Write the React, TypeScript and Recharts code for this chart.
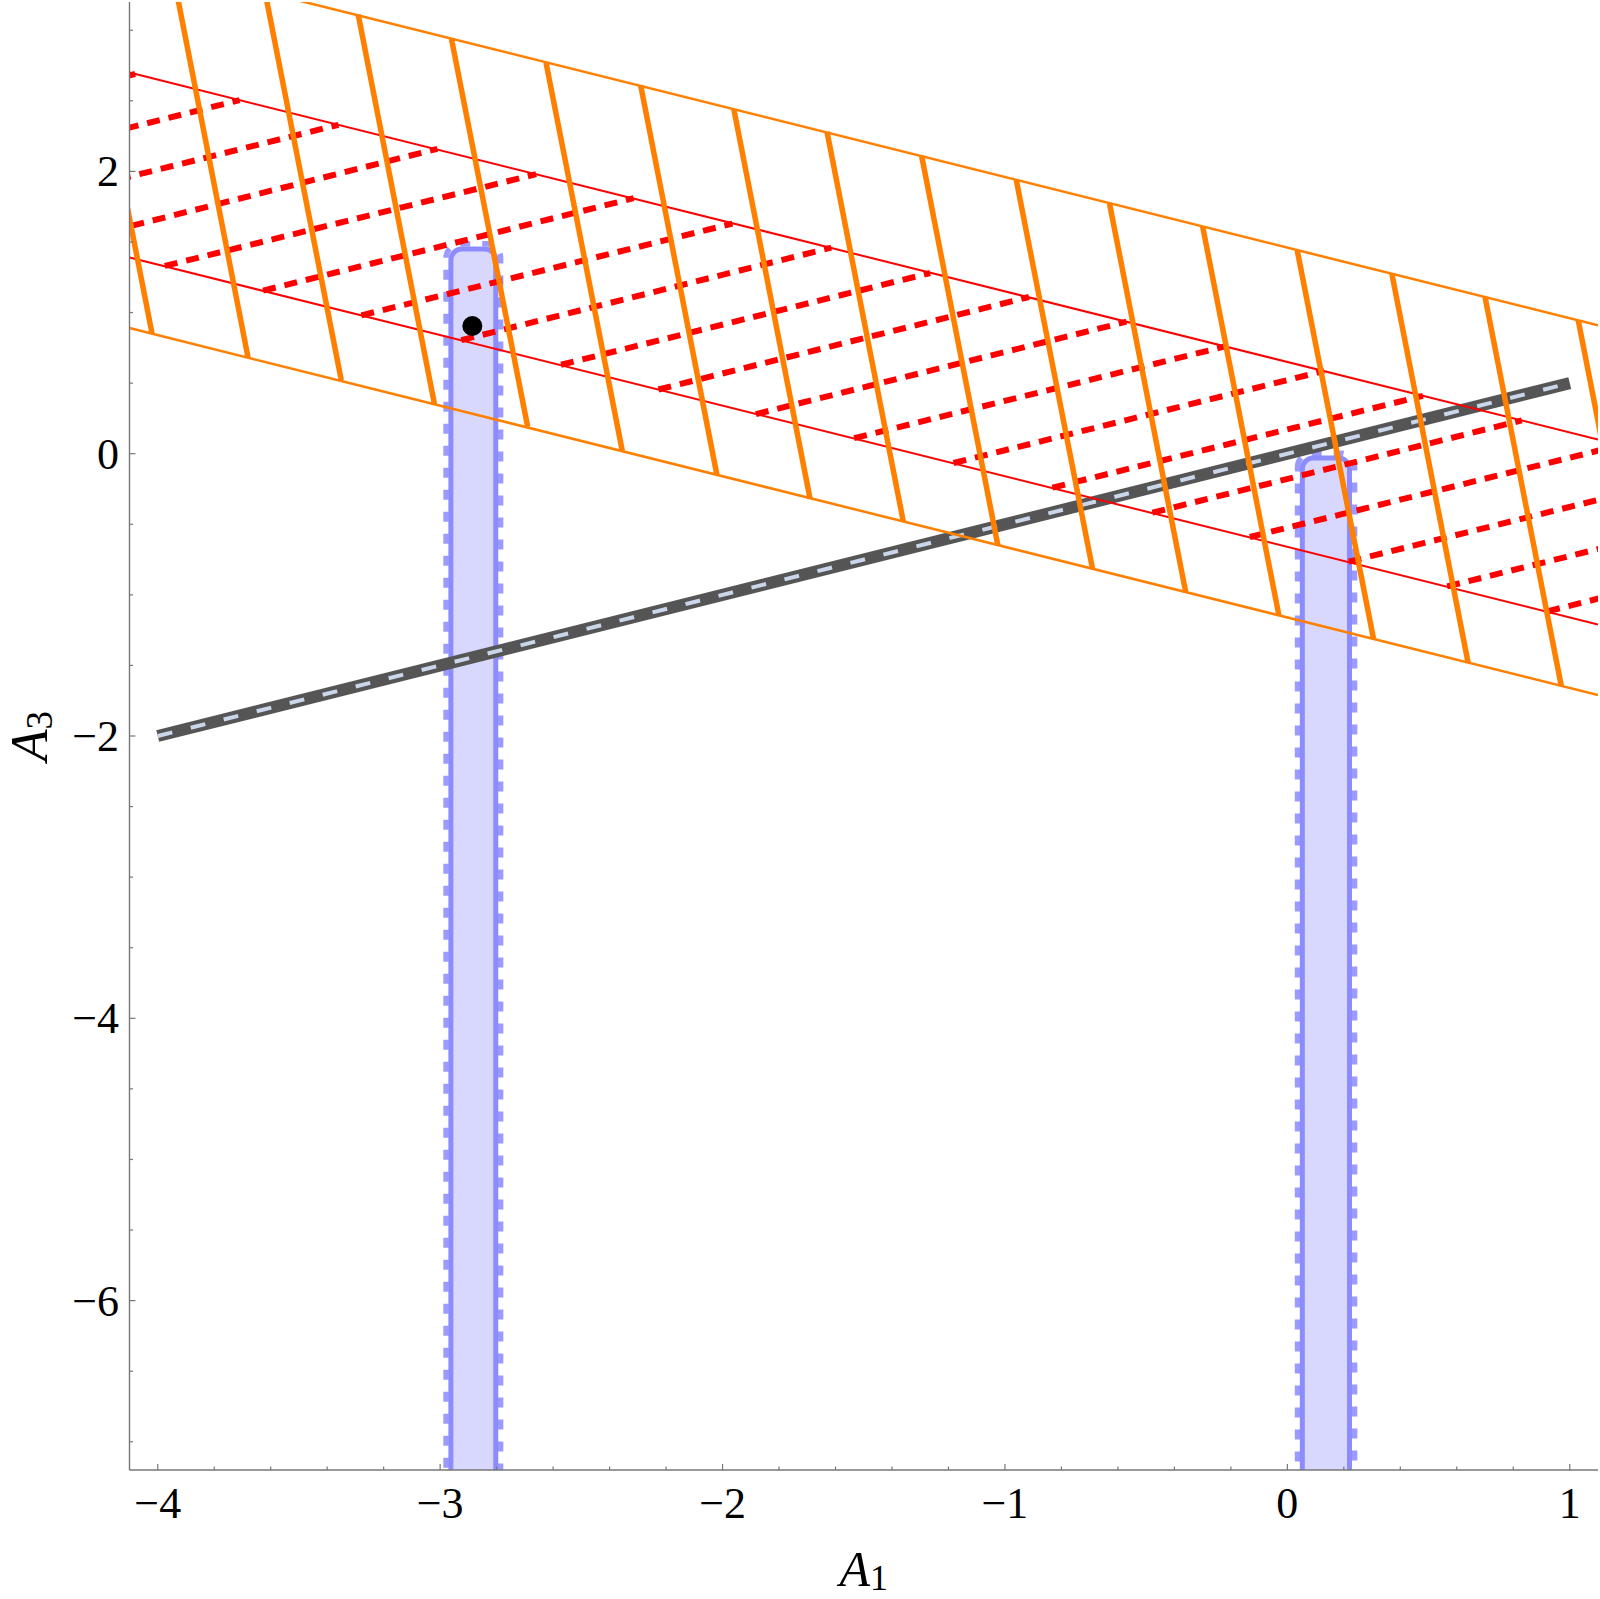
import React from 'react';
import { ComposedChart, Line, Scatter, XAxis, YAxis, ReferenceArea, Rectangle } from 'recharts';

const serif = '"Liberation Serif", "Times New Roman", serif';
const frame = '#777777';

const xDomain = [-4.1, 1.1];
const yDomain = [-7.2, 3.2];
const xTicks = [
  -4, -3.8, -3.6, -3.4, -3.2, -3, -2.8, -2.6, -2.4, -2.2, -2, -1.8, -1.6, -1.4, -1.2,
  -1, -0.8, -0.6, -0.4, -0.2, 0, 0.2, 0.4, 0.6, 0.8, 1,
];
const yTicks = [
  -7, -6.5, -6, -5.5, -5, -4.5, -4, -3.5, -3, -2.5, -2, -1.5, -1, -0.5, 0, 0.5, 1, 1.5, 2, 2.5, 3,
];

// orange band: edges and hatching [x low, y low, x high, y high]
const orangeTop = [{ x: -4.1, y: 3.51 }, { x: 1.1, y: 0.91 }];
const orangeBottom = [{ x: -4.1, y: 0.89 }, { x: 1.1, y: -1.71 }];
const orangeHatch = [
  [-4.02, 0.85, -4.29, 3.61],
  [-3.68, 0.68, -3.95, 3.44],
  [-3.35, 0.52, -3.62, 3.27],
  [-3.02, 0.35, -3.29, 3.11],
  [-2.69, 0.19, -2.96, 2.94],
  [-2.355, 0.02, -2.625, 2.77],
  [-2.02, -0.15, -2.29, 2.61],
  [-1.69, -0.32, -1.96, 2.44],
  [-1.36, -0.48, -1.63, 2.28],
  [-1.025, -0.65, -1.295, 2.11],
  [-0.69, -0.815, -0.96, 1.94],
  [-0.36, -0.98, -0.63, 1.775],
  [-0.03, -1.145, -0.3, 1.61],
  [0.305, -1.31, 0.035, 1.44],
  [0.64, -1.48, 0.37, 1.275],
  [0.97, -1.645, 0.7, 1.11],
  [1.3, -1.81, 1.03, 0.945],
];

// red band: edges and dashed hatching
const redTop = [{ x: -4.1, y: 2.7 }, { x: 1.1, y: 0.1 }];
const redBottom = [{ x: -4.1, y: 1.39 }, { x: 1.1, y: -1.21 }];
const redHatch = [
  [-5.39, 2.04, -4.08, 2.69],
  [-5.02, 1.85, -3.71, 2.505],
  [-4.67, 1.68, -3.36, 2.33],
  [-4.32, 1.5, -3.01, 2.16],
  [-3.975, 1.33, -2.66, 1.98],
  [-3.627, 1.155, -2.315, 1.81],
  [-3.279, 0.98, -1.965, 1.63],
  [-2.925, 0.805, -1.615, 1.46],
  [-2.572, 0.63, -1.265, 1.28],
  [-2.227, 0.455, -0.915, 1.11],
  [-1.882, 0.28, -0.57, 0.935],
  [-1.534, 0.11, -0.22, 0.76],
  [-1.182, -0.066, 0.13, 0.586],
  [-0.832, -0.241, 0.48, 0.41],
  [-0.478, -0.418, 0.83, 0.236],
  [-0.133, -0.59, 1.18, 0.061],
  [0.217, -0.765, 1.53, -0.114],
  [0.566, -0.94, 1.88, -0.289],
  [0.92, -1.117, 2.23, -0.464],
];

const grayLine = [{ x: -4, y: -2 }, { x: 1, y: 0.5 }];
const marker = [{ x: -2.886, y: 0.905 }];

// blue vertical strips (open to the bottom)
const stripInner = [
  { x1: -2.962, x2: -2.803, top: 1.45 },
  { x1: 0.053, x2: 0.22, top: -0.03 },
];
const stripOuter = [
  { x1: -2.979, x2: -2.786, top: 1.487 },
  { x1: 0.036, x2: 0.238, top: 0.004 },
];

const seg = (s: number[]) => [{ x: s[0], y: s[1] }, { x: s[2], y: s[3] }];
const fmt = (v: number) => (v < 0 ? '\u2212' + Math.abs(v) : String(v));

const BottomTick = (p: any) => {
  const v = p.payload.value;
  const major = Number.isInteger(v);
  return (
    <g>
      <line x1={p.x} x2={p.x} y1={p.y} y2={p.y - (major ? 6 : 3.5)} stroke={frame} strokeWidth={1.2} />
      {major && (
        <text x={p.x} y={p.y + 48} textAnchor="middle" fontFamily={serif} fontSize={44} fill="#000">
          {fmt(v)}
        </text>
      )}
    </g>
  );
};

const TopTick = (p: any) => {
  const major = Number.isInteger(p.payload.value);
  return <line x1={p.x} x2={p.x} y1={p.y} y2={p.y + (major ? 6 : 3.5)} stroke={frame} strokeWidth={1.2} />;
};

const LeftTick = (p: any) => {
  const v = p.payload.value;
  const major = v % 2 === 0;
  return (
    <g>
      <line x1={p.x} x2={p.x + (major ? 6 : 3.5)} y1={p.y} y2={p.y} stroke={frame} strokeWidth={1.2} />
      {major && (
        <text x={p.x - 10.5} y={p.y + 15} textAnchor="end" fontFamily={serif} fontSize={44} fill="#000">
          {fmt(v)}
        </text>
      )}
    </g>
  );
};

const RightTick = (p: any) => {
  const major = p.payload.value % 2 === 0;
  return <line x1={p.x} x2={p.x - (major ? 6 : 3.5)} y1={p.y} y2={p.y} stroke={frame} strokeWidth={1.2} />;
};

const XLabel = (p: any) => {
  const vb = p.viewBox || p;
  const cx = vb.x + vb.width / 2;
  const by = vb.y + 116;
  return (
    <text x={cx} y={by} textAnchor="middle" fontFamily={serif} fontSize={50} fill="#000">
      <tspan fontStyle="italic">A</tspan>
      <tspan fontSize={36} dy={4}>1</tspan>
    </text>
  );
};

const YLabel = (p: any) => {
  const vb = p.viewBox || p;
  const bx = vb.x + 47;
  const cy = vb.y + vb.height / 2;
  return (
    <text x={bx} y={cy} transform={`rotate(-90 ${bx} ${cy})`} textAnchor="middle" fontFamily={serif} fontSize={52} fill="#000">
      <tspan fontStyle="italic">A</tspan>
      <tspan fontSize={37} dy={5}>3</tspan>
    </text>
  );
};

const roundedTop = (r: number) => (p: any) => <Rectangle {...p} radius={[r, r, 0, 0]} />;

const lineProps = {
  type: 'linear' as const,
  dataKey: 'y',
  dot: false,
  activeDot: false,
  isAnimationActive: false,
  legendType: 'none' as const,
};

export default function App() {
  const bottom = yDomain[0] - 0.4;
  return (
    <div style={{ position: 'absolute', left: 0, top: 0, background: '#fff' }}>
      <ComposedChart width={1600} height={1599} margin={{ top: 2, right: 2, bottom: 0, left: 0 }}>
        <XAxis
          type="number"
          dataKey="x"
          domain={xDomain}
          allowDataOverflow
          ticks={xTicks}
          interval={0}
          tickSize={0}
          tickMargin={0}
          tickLine={false}
          tick={BottomTick}
          axisLine={{ stroke: frame, strokeWidth: 1.4 }}
          height={129}
          label={{ content: XLabel }}
        />
        <XAxis
          xAxisId="top"
          orientation="top"
          type="number"
          dataKey="x"
          domain={xDomain}
          allowDataOverflow
          ticks={xTicks}
          interval={0}
          tickSize={0}
          tickMargin={0}
          tickLine={false}
          tick={TopTick}
          axisLine={{ stroke: frame, strokeWidth: 1.4 }}
          height={0}
        />
        <YAxis
          type="number"
          dataKey="y"
          domain={yDomain}
          allowDataOverflow
          ticks={yTicks}
          interval={0}
          tickSize={0}
          tickMargin={0}
          tickLine={false}
          tick={LeftTick}
          axisLine={{ stroke: frame, strokeWidth: 1.4 }}
          width={129.5}
          label={{ content: YLabel }}
        />
        <YAxis
          yAxisId="right"
          orientation="right"
          type="number"
          dataKey="y"
          domain={yDomain}
          allowDataOverflow
          ticks={yTicks}
          interval={0}
          tickSize={0}
          tickMargin={0}
          tickLine={false}
          tick={RightTick}
          axisLine={{ stroke: frame, strokeWidth: 1.4 }}
          width={0}
        />

        {stripInner.map((s, i) => (
          <ReferenceArea
            key={'si' + i}
            x1={s.x1}
            x2={s.x2}
            y1={bottom}
            y2={s.top}
            ifOverflow="hidden"
            fill="#d8d8ff"
            fillOpacity={1}
            stroke="#8c8cff"
            strokeWidth={5}
            shape={roundedTop(11)}
          />
        ))}
        {stripOuter.map((s, i) => (
          <ReferenceArea
            key={'so' + i}
            x1={s.x1}
            x2={s.x2}
            y1={bottom}
            y2={s.top}
            ifOverflow="hidden"
            fill="none"
            fillOpacity={0}
            stroke="#8a8aff"
            strokeOpacity={0.85}
            strokeWidth={5.5}
            strokeDasharray="10 12"
            shape={roundedTop(14)}
          />
        ))}

        <Line {...lineProps} data={grayLine} stroke="#555555" strokeWidth={12} />
        <Line {...lineProps} data={grayLine} stroke="#cad6ea" strokeWidth={4} strokeDasharray="15 19" />

        <Line {...lineProps} data={redTop} stroke="#ff0000" strokeWidth={2} />
        <Line {...lineProps} data={redBottom} stroke="#ff0000" strokeWidth={2} />
        {redHatch.map((s, i) => (
          <Line key={'rh' + i} {...lineProps} data={seg(s)} stroke="#ff0000" strokeWidth={6} strokeDasharray="13 9" />
        ))}

        <Line {...lineProps} data={orangeTop} stroke="#ff8000" strokeWidth={2.5} />
        <Line {...lineProps} data={orangeBottom} stroke="#ff8000" strokeWidth={2.5} />
        {orangeHatch.map((s, i) => (
          <Line key={'oh' + i} {...lineProps} data={seg(s)} stroke="#ff8000" strokeWidth={5.5} />
        ))}

        <Scatter
          data={marker}
          dataKey="y"
          isAnimationActive={false}
          shape={(p: any) => <circle cx={p.cx} cy={p.cy} r={10} fill="#000" />}
        />
      </ComposedChart>
    </div>
  );
}
